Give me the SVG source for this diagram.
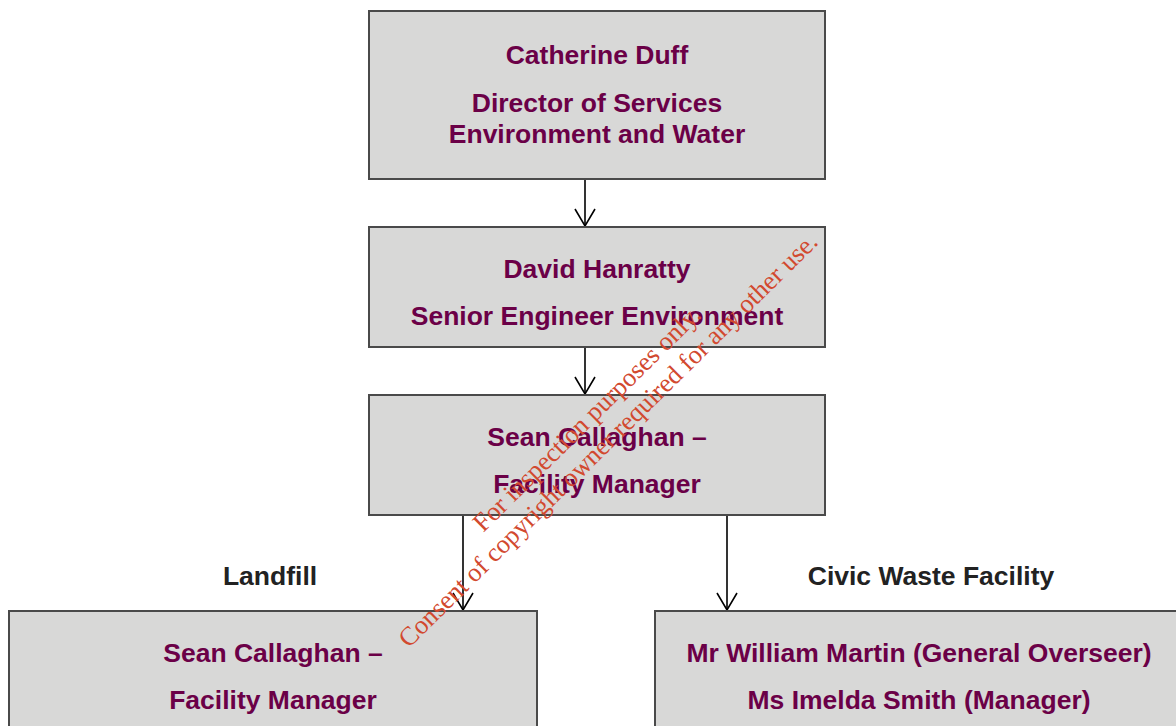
<svg xmlns="http://www.w3.org/2000/svg" width="1176" height="726" viewBox="0 0 1176 726">
  <defs>
    <style>
      .box { fill: #d8d8d7; stroke: #4a4a4a; stroke-width: 2; }
      .t { font-family: "Liberation Sans", Arial, sans-serif; font-weight: bold; font-size: 26.5px; fill: #6b0047; text-anchor: middle; }
      .lbl { font-family: "Liberation Sans", Arial, sans-serif; font-weight: bold; font-size: 26.5px; fill: #222222; text-anchor: middle; }
      .conn { stroke: #000000; stroke-width: 1.6; fill: none; }
      .wm { font-family: "Liberation Serif", "Times New Roman", serif; font-size: 26.2px; fill: #d2492f; text-anchor: middle; }
    </style>
    <marker id="arrow" markerUnits="userSpaceOnUse" markerWidth="24" markerHeight="24" viewBox="-20 -12 24 24" refX="0" refY="0" orient="auto">
      <path d="M-17,-10 L0,0 L-17,10" fill="none" stroke="#000000" stroke-width="1.6"/>
    </marker>
  </defs>
  <rect width="1176" height="726" fill="#ffffff"/>

  <g id="connectors">
    <line class="conn" x1="585" y1="179" x2="585" y2="226" marker-end="url(#arrow)"/>
    <line class="conn" x1="585" y1="347" x2="585" y2="394" marker-end="url(#arrow)"/>
    <line class="conn" x1="463" y1="515" x2="463" y2="610" marker-end="url(#arrow)"/>
    <line class="conn" x1="727" y1="515" x2="727" y2="610" marker-end="url(#arrow)"/>
  </g>

  <g id="node-director">
    <rect class="box" x="369" y="11" width="456" height="168"/>
    <text class="t" x="597" y="64">Catherine Duff</text>
    <text class="t" x="597" y="112">Director of Services</text>
    <text class="t" x="597" y="143">Environment and Water</text>
  </g>

  <g id="node-senior-engineer">
    <rect class="box" x="369" y="227" width="456" height="120"/>
    <text class="t" x="597" y="278">David Hanratty</text>
    <text class="t" x="597" y="325">Senior Engineer Environment</text>
  </g>

  <g id="node-facility-manager">
    <rect class="box" x="369" y="395" width="456" height="120"/>
    <text class="t" x="597" y="446">Sean Callaghan –</text>
    <text class="t" x="597" y="493">Facility Manager</text>
  </g>

  <g id="label-landfill">
    <text class="lbl" x="270" y="585">Landfill</text>
  </g>
  <g id="label-civic">
    <text class="lbl" x="931" y="585">Civic Waste Facility</text>
  </g>

  <g id="node-landfill">
    <rect class="box" x="9" y="611" width="528" height="130"/>
    <text class="t" x="273" y="662">Sean Callaghan –</text>
    <text class="t" x="273" y="709">Facility Manager</text>
  </g>

  <g id="node-civic">
    <rect class="box" x="655" y="611" width="540" height="130"/>
    <text class="t" x="919" y="662">Mr William Martin (General Overseer)</text>
    <text class="t" x="919" y="709">Ms Imelda Smith (Manager)</text>
  </g>

  <g id="watermark" transform="translate(614,446) rotate(-44.65)">
    <text class="wm" x="0" y="-30">For inspection purposes only.</text>
    <text class="wm" x="0" y="0">Consent of copyright owner required for any other use.</text>
  </g>
</svg>
